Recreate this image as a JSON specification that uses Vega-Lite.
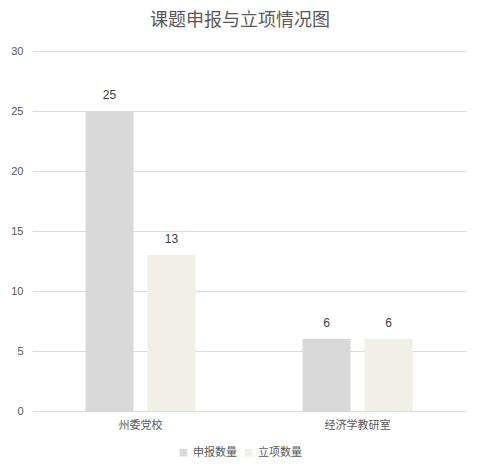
{
  "$schema": "https://vega.github.io/schema/vega-lite/v6.json",
  "autosize": "none",
  "width": 434,
  "height": 360,
  "padding": {"left": 32, "top": 51, "right": 16, "bottom": 63},
  "background": "white",
  "title": {
    "text": "课题申报与立项情况图",
    "font": "Noto Sans CJK SC",
    "fontSize": 18,
    "fontWeight": "normal",
    "color": "#595959",
    "anchor": "middle",
    "dx": -9,
    "offset": 15
  },
  "data": {
    "values": [
      {"单位": "州委党校", "类型": "申报数量", "数量": 25},
      {"单位": "州委党校", "类型": "立项数量", "数量": 13},
      {"单位": "经济学教研室", "类型": "申报数量", "数量": 6},
      {"单位": "经济学教研室", "类型": "立项数量", "数量": 6}
    ]
  },
  "encoding": {
    "x": {
      "field": "单位",
      "type": "nominal",
      "sort": ["州委党校", "经济学教研室"],
      "scale": {"paddingInner": 0.493, "paddingOuter": 0.2465},
      "axis": {
        "title": null,
        "labelAngle": 0,
        "domain": false,
        "ticks": false,
        "labelFont": "Noto Sans CJK SC",
        "labelFontSize": 11,
        "labelColor": "#595959",
        "labelPadding": 8
      }
    },
    "xOffset": {
      "field": "类型",
      "sort": ["申报数量", "立项数量"],
      "scale": {"paddingInner": 0.226, "paddingOuter": 0}
    },
    "y": {
      "field": "数量",
      "type": "quantitative",
      "scale": {"domain": [0, 30]},
      "axis": {
        "title": null,
        "values": [0, 5, 10, 15, 20, 25, 30],
        "domain": false,
        "ticks": false,
        "gridColor": "#d9d9d9",
        "labelFont": "Liberation Sans",
        "labelFontSize": 11,
        "labelColor": "#595959",
        "labelPadding": 9
      }
    }
  },
  "layer": [
    {
      "mark": {"type": "bar"},
      "encoding": {
        "color": {
          "field": "类型",
          "type": "nominal",
          "sort": ["申报数量", "立项数量"],
          "scale": {"domain": ["申报数量", "立项数量"], "range": ["#d9d9d9", "#f1efe6"]},
          "legend": {
            "title": null,
            "orient": "none",
            "direction": "horizontal",
            "legendX": 146,
            "legendY": 396,
            "symbolType": "square",
            "symbolSize": 60,
            "labelFont": "Noto Sans CJK SC",
            "labelFontSize": 11,
            "labelColor": "#595959",
            "columnPadding": 6,
            "labelOffset": 4
          }
        }
      }
    },
    {
      "mark": {
        "type": "text",
        "baseline": "bottom",
        "dy": -9,
        "font": "Liberation Sans",
        "fontSize": 12,
        "color": "#404040"
      },
      "encoding": {
        "text": {"field": "数量", "type": "quantitative"}
      }
    }
  ],
  "config": {
    "view": {"stroke": null}
  }
}
